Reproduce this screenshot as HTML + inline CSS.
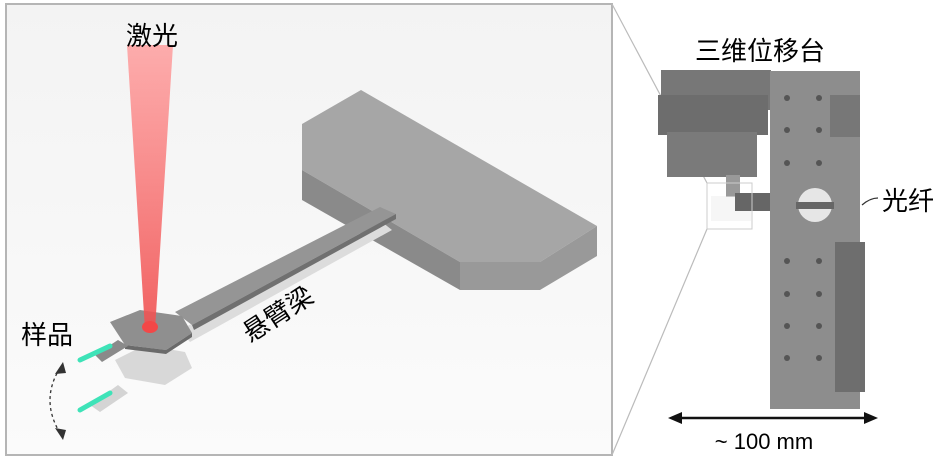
<!DOCTYPE html>
<html><head><meta charset="utf-8"><style>
body{margin:0;background:#fff;}
svg{display:block;font-family:"Liberation Sans","Noto Sans CJK SC",sans-serif;}
</style></head><body>
<svg width="942" height="461" viewBox="0 0 942 461">
<defs>
<linearGradient id="bg" x1="0" y1="0" x2="0" y2="1"><stop offset="0" stop-color="#f3f3f3"/><stop offset="1" stop-color="#fbfbfb"/></linearGradient>
<linearGradient id="laser" x1="0" y1="0" x2="0" y2="1"><stop offset="0" stop-color="#ff9a9a" stop-opacity="0.8"/><stop offset="1" stop-color="#f05050" stop-opacity="0.9"/></linearGradient>
</defs>
<rect x="6" y="4" width="606" height="451" fill="url(#bg)" stroke="#b5b5b5" stroke-width="2"/>
<!-- block -->
<polygon points="302,124 361,90 597,226 540,262 460,262 302,170" fill="#a6a6a6"/>
<polygon points="302,170 460,262 460,290 302,200" fill="#8a8a8a"/>
<polygon points="460,262 540,262 597,226 597,256 540,290 460,290" fill="#999"/>
<!-- ghost beam & sample -->
<polygon points="180,330 382,222 392,230 190,342" fill="#dcdcdc"/>
<polygon points="115,360 145,345 185,352 192,368 165,385 125,378" fill="#d8d8d8"/>
<polygon points="90,405 118,385 128,393 100,412" fill="#d4d4d4"/>
<line x1="80" y1="410" x2="110" y2="393" stroke="#3ee3b8" stroke-width="5" stroke-linecap="round"/>
<!-- beam -->
<polygon points="175,312 380,207 396,214 192,325" fill="#959595"/>
<polygon points="192,325 396,214 396,219 194,330" fill="#707070"/>
<polygon points="110,322 140,310 182,316 192,333 166,350 125,345" fill="#8f8f8f"/>
<polygon points="125,345 166,350 192,333 192,337 166,354 125,349" fill="#6a6a6a"/>
<polygon points="95,355 118,340 128,346 102,362" fill="#8a8a8a"/>
<line x1="80" y1="360" x2="110" y2="346" stroke="#3ee3b8" stroke-width="5" stroke-linecap="round"/>
<!-- laser -->
<polygon points="127,45 173,45 155,330 145,330" fill="url(#laser)"/>
<ellipse cx="150" cy="327" rx="8" ry="6" fill="#f24848"/>
<text x="152" y="45" font-size="26" text-anchor="middle">激光</text>
<text x="47" y="344" font-size="26" text-anchor="middle">样品</text>
<text x="0" y="0" font-size="26" transform="translate(250,343) rotate(-33)">悬臂梁</text>
<path d="M60,368 Q40,400 60,433" fill="none" stroke="#333" stroke-width="1.3" stroke-dasharray="3,3"/>
<polygon points="63,362 55,374 66,373" fill="#333"/>
<polygon points="63,440 55,428 66,430" fill="#333"/>
<!-- zoom lines -->
<line x1="612" y1="4" x2="707" y2="183" stroke="#bbb" stroke-width="1.2"/>
<line x1="612" y1="455" x2="707" y2="229" stroke="#bbb" stroke-width="1.2"/>
<!-- stage -->
<rect x="661" y="70" width="110" height="40" fill="#777"/>
<rect x="658" y="95" width="110" height="40" fill="#6d6d6d"/>
<rect x="667" y="132" width="90" height="45" fill="#7a7a7a"/>
<rect x="726" y="175" width="14" height="22" fill="#999"/>
<rect x="711" y="196" width="40" height="25" fill="#eee" opacity="0.5"/>
<rect x="735" y="193" width="35" height="18" fill="#666"/>
<rect x="770" y="71" width="90" height="338" fill="#8d8d8d"/>
<rect x="830" y="95" width="30" height="42" fill="#777"/>
<rect x="835" y="242" width="30" height="150" fill="#6e6e6e"/>
<circle cx="815" cy="205" r="17" fill="#e6e6e6"/>
<rect x="796" y="202" width="38" height="7" fill="#666"/>
<g fill="#555">
<circle cx="787" cy="98" r="3"/><circle cx="819" cy="98" r="3"/>
<circle cx="787" cy="130" r="3"/><circle cx="819" cy="130" r="3"/>
<circle cx="787" cy="163" r="3"/><circle cx="819" cy="163" r="3"/>
<circle cx="787" cy="261" r="3"/><circle cx="819" cy="261" r="3"/>
<circle cx="787" cy="294" r="3"/><circle cx="819" cy="294" r="3"/>
<circle cx="787" cy="326" r="3"/><circle cx="819" cy="326" r="3"/>
<circle cx="787" cy="358" r="3"/><circle cx="819" cy="358" r="3"/>
</g>
<rect x="707" y="183" width="45" height="46" fill="none" stroke="#ccc" stroke-width="1"/>
<path d="M862,205 Q870,198 878,198" fill="none" stroke="#333" stroke-width="1.2"/>
<text x="760" y="60" font-size="26" text-anchor="middle">三维位移台</text>
<text x="908" y="210" font-size="26" text-anchor="middle">光纤</text>
<line x1="678" y1="418" x2="868" y2="418" stroke="#111" stroke-width="2.5"/>
<polygon points="668,418 682,412 682,424" fill="#111"/>
<polygon points="878,418 864,412 864,424" fill="#111"/>
<text x="764" y="449" font-size="22" text-anchor="middle">~ 100 mm</text>
</svg>
</body></html>
